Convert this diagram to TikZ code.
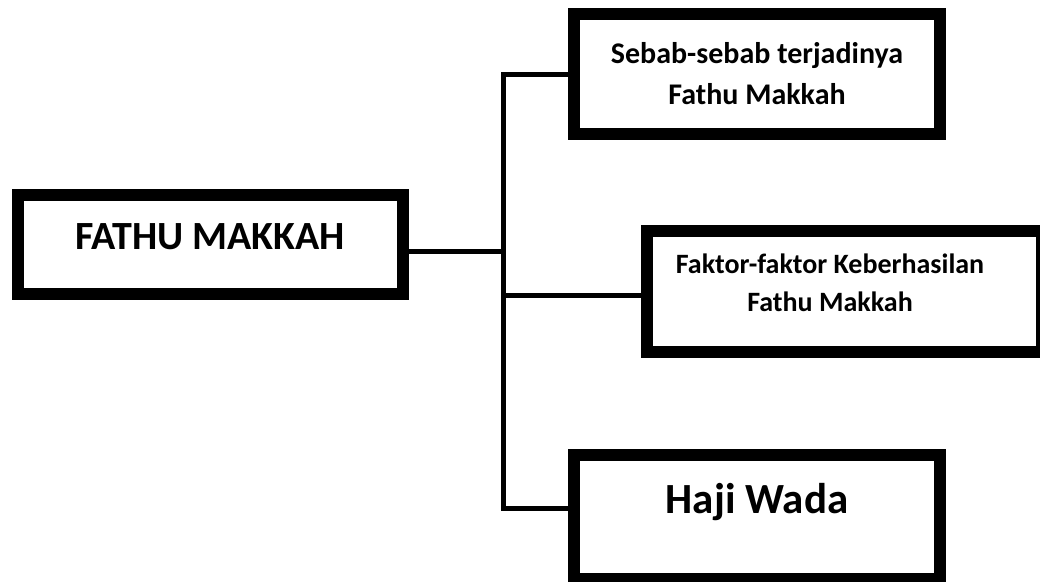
\documentclass[tikz,border=0pt]{standalone}
\usepackage{fontspec}
\setmainfont{Carlito}
\usetikzlibrary{positioning, calc}

\tikzset{
  frame/.style={draw, line width=12pt, minimum width=#1, inner sep=0pt},
  link/.style={line width=5pt},
  caption/.style={font=\bfseries, align=center, inner sep=0pt}
}

\begin{document}
\begin{tikzpicture}[x=1pt, y=-1pt]
			\useasboundingbox (0,0) rectangle (1040,581);
			% boxes
			\node[frame=385pt, minimum height=99pt] (fathu) at (210.5,244.5) {};
			\node[frame=366pt, minimum height=120pt] (sebab) at (757,74) {};
			\node[frame=395pt, minimum height=121pt] (faktor) at (844.5,291.5) {};
			\node[frame=366pt, minimum height=124pt] (haji) at (757,517) {};
			% texts
			\node[caption, anchor=base, font=\bfseries\fontsize{40}{48}\selectfont] (tfathu) at (210,249) {FATHU MAKKAH};
			\node[caption, font=\bfseries\fontsize{30}{41}\selectfont] (tsebab) at (757,74) {Sebab-sebab terjadinya\\Fathu Makkah};
			\node[caption, font=\bfseries\fontsize{28}{38.4}\selectfont] (tfaktor) at (830,283) {Faktor-faktor Keberhasilan\\Fathu Makkah};
			\node[caption, anchor=base, font=\bfseries\fontsize{43}{52}\selectfont] (thaji) at (757,513) {Haji Wada};
			% connectors
			\coordinate (mid) at (503,251);
			\coordinate (top) at (503,74);
			\coordinate (bot) at (503,508);
			\coordinate (fork) at (503,295);
			\draw[link] (fathu.east |- mid) -- (mid);
			\draw[link] (sebab.west) -- (top) -- (bot) -- (haji.west |- bot);
			\draw[link] (fork) -- (faktor.west |- fork);
		\end{tikzpicture}
\end{document}
